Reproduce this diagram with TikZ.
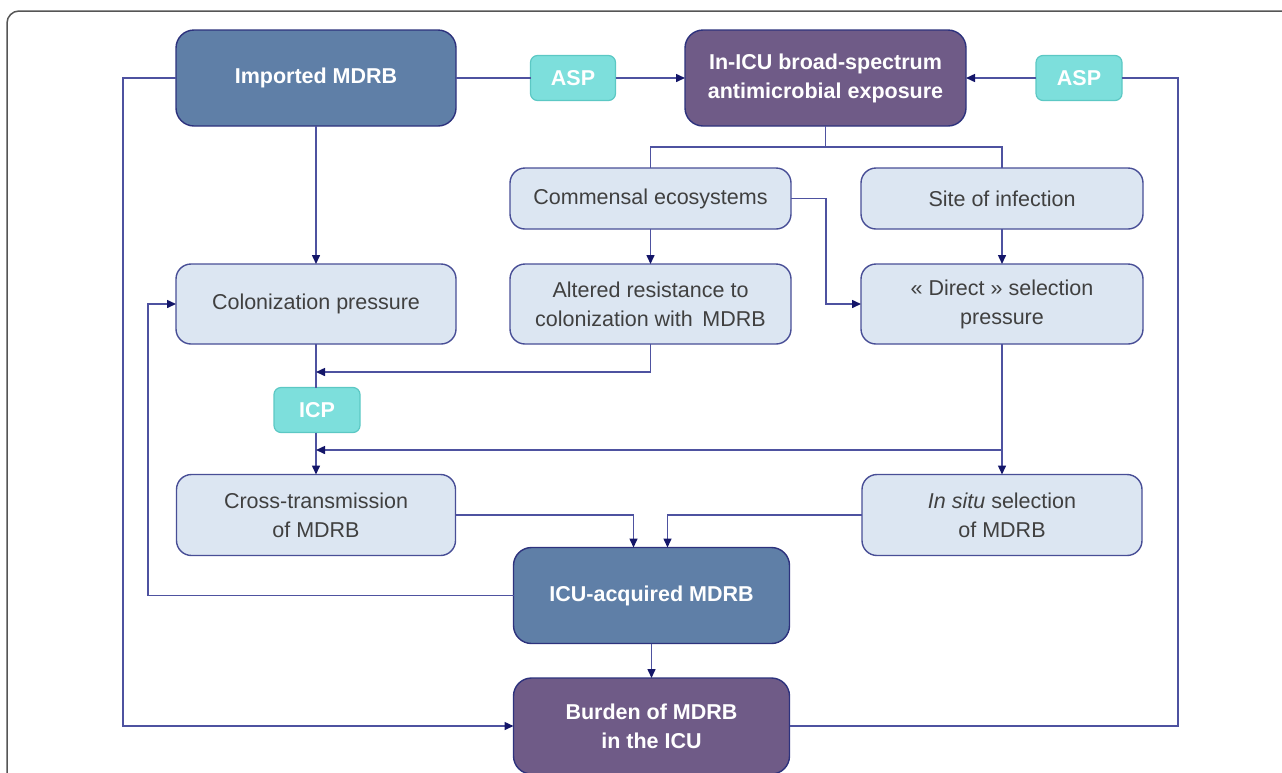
\documentclass[tikz,border=0pt]{standalone}
\usepackage{fontspec}
\setmainfont{Liberation Sans}
\usetikzlibrary{arrows.meta}
\definecolor{steel}{RGB}{95,127,167}
\definecolor{plum}{RGB}{111,91,135}
\definecolor{pale}{RGB}{220,230,242}
\definecolor{turq}{RGB}{125,223,220}
\definecolor{turqline}{RGB}{92,200,196}
\definecolor{navy}{RGB}{45,50,125}
\definecolor{paleline}{RGB}{72,78,150}
\definecolor{conncol}{RGB}{78,82,160}
\definecolor{tipcol}{RGB}{20,22,105}
\definecolor{txt}{RGB}{64,64,64}
\definecolor{framecol}{RGB}{85,85,85}
\begin{document}
\begin{tikzpicture}[x=1pt,y=-1pt,
  every node/.style={inner sep=0pt,outer sep=0pt},
  darkbox/.style={draw=navy,line width=1.4pt,rounded corners=18pt,text=white,align=center,
     font=\fontsize{21.5}{29}\selectfont\bfseries},
  bluebox/.style={darkbox,fill=steel},
  purplebox/.style={darkbox,fill=plum},
  palebox/.style={draw=paleline,line width=1.4pt,fill=pale,rounded corners=15pt,text=txt,align=center,
     font=\fontsize{21.5}{29}\selectfont},
  tagbox/.style={draw=turqline,line width=1.2pt,fill=turq,rounded corners=7pt,text=white,
     font=\fontsize{21.5}{29}\selectfont\bfseries},
  conn/.style={draw=conncol,line width=1.5pt},
  arr/.style={conn,-{Triangle[length=9pt,width=8pt,color=tipcol]}}
]
\useasboundingbox (0,0) rectangle (1282,772);
\begin{scope}
\clip (0,0) rectangle (1282,772);
\draw[framecol,line width=1.5pt,rounded corners=12pt] (7,11) rectangle (1320,820);
\end{scope}

% nodes
\node[bluebox,minimum width=280pt,minimum height=96pt] (imp) at (316,78) {Imported MDRB};
\node[tagbox,minimum width=85pt,minimum height=45pt] (asp1) at (573,78) {ASP};
\node[purplebox,minimum width=281pt,minimum height=96pt] (icu) at (825.5,78) {In-ICU broad-spectrum\\antimicrobial exposure};
\node[tagbox,minimum width=86pt,minimum height=45pt] (asp2) at (1079,78) {ASP};

\node[palebox,minimum width=281pt,minimum height=61pt] (comm) at (650.5,198.5) {Commensal ecosystems};
\node[palebox,minimum width=282pt,minimum height=61pt] (site) at (1002,198.5) {Site of infection};

\node[palebox,minimum width=280pt,minimum height=80pt] (col) at (316,304) {Colonization pressure};
\node[palebox,minimum width=281pt,minimum height=80pt] (alt) at (650.5,304) {Altered resistance to\\colonization with\, MDRB};
\node[palebox,minimum width=282pt,minimum height=80pt] (dir) at (1002,304) {« Direct » selection\\pressure};

\node[tagbox,minimum width=86pt,minimum height=45pt] (icp) at (317,410) {ICP};

\node[palebox,minimum width=279pt,minimum height=81pt] (cross) at (316,515) {Cross-transmission\\of MDRB};
\node[palebox,minimum width=280pt,minimum height=81pt] (insitu) at (1002,515) {\textit{In situ} selection\\of MDRB};

\node[bluebox,minimum width=276pt,minimum height=96pt] (acq) at (651.5,595.5) {ICU-acquired MDRB};
\node[purplebox,minimum width=276pt,minimum height=96pt] (burden) at (651.5,726) {Burden of MDRB\\in the ICU};

% coordinates
\coordinate (Lout) at (123,78);
\coordinate (Rout) at (1178,726);
\coordinate (J) at (825.5,147);
\coordinate (a1) at (316,372);
\coordinate (a2) at (316,450);
\coordinate (Lin) at (148,595.5);

% connectors
\draw[conn] (imp.east) -- (asp1.west);
\draw[arr] (asp1.east) -- (icu.west);
\draw[arr] (imp.west) -- (Lout) |- (burden.west);
\draw[conn] (burden.east) -- (Rout) |- (asp2.east);
\draw[arr] (asp2.west) -- (icu.east);

\draw[conn] (icu.south) -- (J);
\draw[conn] (comm.north) |- (J) -| (site.north);

\draw[arr] (comm.south) -- (alt.north);
\draw[arr] (comm.east) -- ++(35,0) |- (dir.west);
\draw[arr] (site.south) -- (dir.north);
\draw[arr] (imp.south) -- (col.north);

\draw[conn] (col.south) -- (icp.north -| col.south);
\draw[arr] (alt.south) |- (a1);
\draw[arr] (icp.south -| col.south) -- (cross.north);
\draw[arr] (dir.south) |- (a2);
\draw[arr] (dir.south) -- (insitu.north);

\draw[arr] (cross.east) -| ([xshift=-18pt]acq.north);
\draw[arr] (insitu.west) -| ([xshift=16pt]acq.north);
\draw[arr] (acq.west) -- (Lin) |- (col.west);
\draw[arr] (acq.south) -- (burden.north);
\end{tikzpicture}
\end{document}
